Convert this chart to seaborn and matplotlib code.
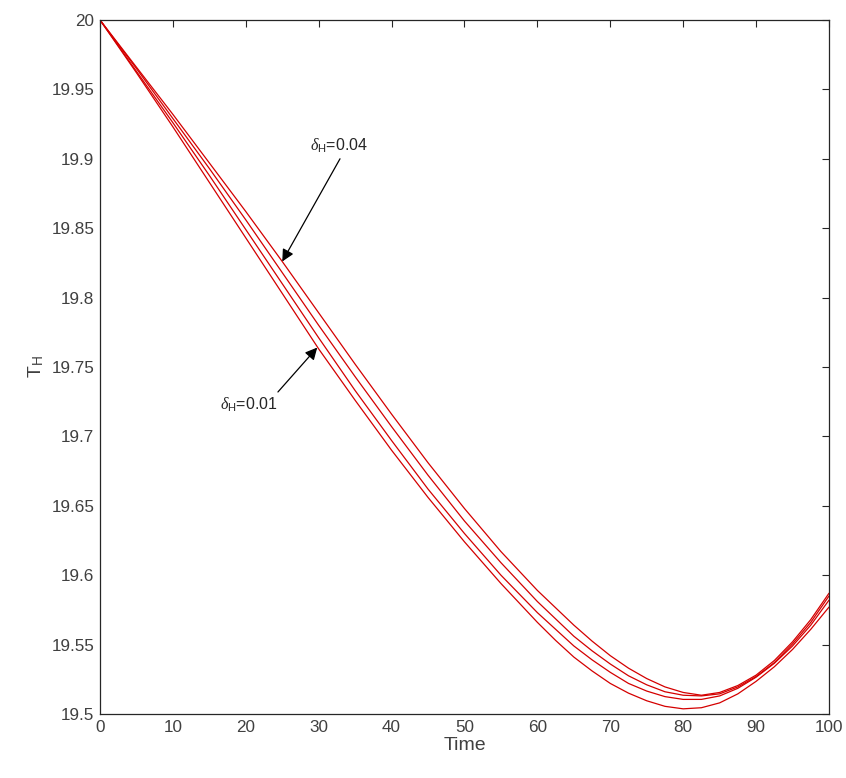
import numpy as np
import pandas as pd
import matplotlib
matplotlib.use("Agg")
import matplotlib.pyplot as plt
import seaborn as sns

# ── Data ──────────────────────────────────────────────────────────────────────
TIME = [0, 5, 10, 15, 20, 25, 30, 35, 40, 45, 50, 55,
        60, 62.5, 65, 67.5, 70, 72.5, 75, 77.5, 80, 82.5, 85, 87.5, 90, 92.5, 95, 97.5, 100]

T_H_001 = [20.000, 19.962, 19.923, 19.883, 19.843, 19.803, 19.763, 19.726, 19.690, 19.656, 19.624, 19.594,
           19.566, 19.553, 19.541, 19.531, 19.522, 19.515, 19.5095, 19.5055, 19.5037, 19.5045, 19.508,
           19.5145, 19.5235, 19.534, 19.5465, 19.561, 19.577]
T_H_002 = [20.000, 19.963, 19.926, 19.888, 19.849, 19.810, 19.771, 19.733, 19.697, 19.662, 19.630, 19.600,
           19.573, 19.561, 19.549, 19.539, 19.530, 19.522, 19.5165, 19.5125, 19.5105, 19.5105, 19.513,
           19.5185, 19.5265, 19.5365, 19.549, 19.564, 19.582]
T_H_003 = [20.000, 19.965, 19.929, 19.893, 19.856, 19.818, 19.780, 19.743, 19.707, 19.672, 19.639, 19.609,
           19.581, 19.5685, 19.556, 19.5455, 19.536, 19.5275, 19.521, 19.516, 19.5135, 19.513, 19.5145,
           19.5195, 19.527, 19.537, 19.5505, 19.566, 19.585]
T_H_004 = [20.000, 19.966, 19.932, 19.897, 19.862, 19.826, 19.789, 19.752, 19.716, 19.681, 19.648, 19.617,
           19.589, 19.5765, 19.564, 19.5525, 19.542, 19.533, 19.5255, 19.5195, 19.5155, 19.5135, 19.5155,
           19.5205, 19.528, 19.5385, 19.552, 19.568, 19.587]

DELTAS = ["0.01", "0.02", "0.03", "0.04"]
SERIES = [T_H_001, T_H_002, T_H_003, T_H_004]

X_TICKS = list(range(0, 101, 10))
Y_TICKS = [19.5, 19.55, 19.6, 19.65, 19.7, 19.75, 19.8, 19.85, 19.9, 19.95, 20]
Y_TICK_LABELS = ["19.5", "19.55", "19.6", "19.65", "19.7", "19.75", "19.8", "19.85", "19.9", "19.95", "20"]

# ── Long-form table ───────────────────────────────────────────────────────────
df = pd.concat(
    [pd.DataFrame({"Time": TIME, "T_H": vals, "delta": d}) for d, vals in zip(DELTAS, SERIES)],
    ignore_index=True,
)

sns.set_theme(style="white")
plt.rcParams["font.family"] = ["Liberation Sans", "DejaVu Sans"]
plt.rcParams["mathtext.fontset"] = "custom"
plt.rcParams["mathtext.rm"] = "Liberation Sans"
plt.rcParams["mathtext.it"] = "Liberation Serif:italic"

fig = plt.figure(figsize=(8.46, 7.78), dpi=100)
ax = fig.add_axes([0.1182, 0.0823, 0.8617, 0.892])

sns.lineplot(data=df, x="Time", y="T_H", hue="delta", units="delta", estimator=None,
             palette=["#d40000"] * 4, linewidth=0.9, legend=False, ax=ax)

ax.set_xlim(0, 100)
ax.set_ylim(19.5, 20)
ax.set_xticks(X_TICKS)
ax.set_yticks(Y_TICKS)
ax.set_yticklabels(Y_TICK_LABELS)

for side in ["top", "right", "bottom", "left"]:
    ax.spines[side].set_visible(True)
    ax.spines[side].set_color("#262626")
    ax.spines[side].set_linewidth(0.9)

ax.tick_params(direction="in", length=5, width=0.8, top=True, right=True,
               labelsize=12.3, labelcolor="#404040", color="#262626", pad=4)

ax.set_xlabel("Time", fontsize=14, color="#404040", labelpad=2)
ax.set_ylabel(r"T$_{\rm H}$", fontsize=14, color="#404040", labelpad=4)

arrow = dict(arrowstyle="-|>", color="black", lw=0.9, mutation_scale=18,
             shrinkA=0, shrinkB=0)
ax.annotate(r"$\delta_{\rm H}$=0.04", xy=(25.0, 19.826), xytext=(28.8, 19.909),
            fontsize=11.5, color="#262626", va="center", ha="left",
            arrowprops=dict(arrow, relpos=(0.55, 0.0)))
ax.annotate(r"$\delta_{\rm H}$=0.01", xy=(29.8, 19.764), xytext=(16.5, 19.723),
            fontsize=11.5, color="#262626", va="center", ha="left",
            arrowprops=dict(arrow, relpos=(0.95, 1.0)))

fig.savefig("out.png", dpi=100, facecolor="white")
